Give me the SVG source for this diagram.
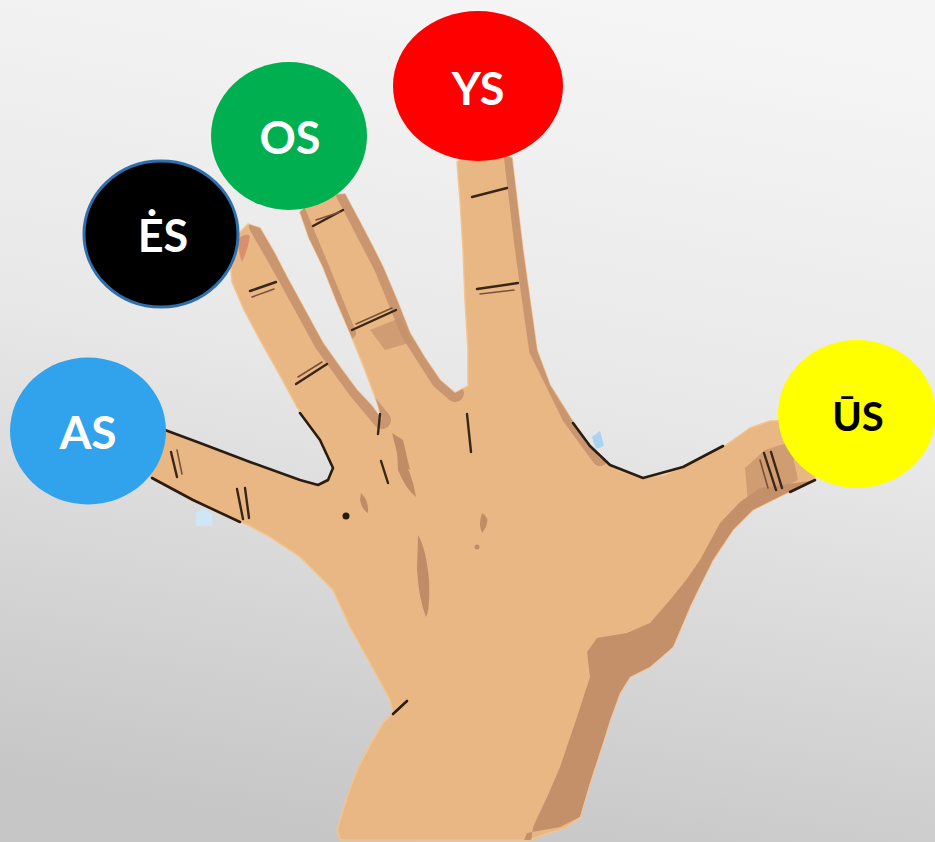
<svg xmlns="http://www.w3.org/2000/svg" width="935" height="842" viewBox="0 0 935 842">
<defs>
<linearGradient id="bg" x1="0.6" y1="0" x2="0.4" y2="1">
<stop offset="0" stop-color="#f5f5f5"/>
<stop offset="0.45" stop-color="#e8e8e8"/>
<stop offset="1" stop-color="#c6c6c6"/>
</linearGradient>
<path id="handPath" d="M160,428 L200,443 L250,462 L300,481 L318,485 L328,480 L333,468 L320,440 L297,407 L278,372 L260,340 L244,310 L232,282 L230,258 L236,236 L248,224 L260,228 L274,252 L287,277 L305,310 L323,343 L340,367 L357,390 L372,406 L382,420 L378,405 L365,370 L350,333 L336,300 L323,267 L309,238 L300,212 L318,196 L345,194 L360,222 L372,245 L383,267 L397,300 L410,333 L425,358 L440,380 L455,393 L468,386 L468,350 L465,300 L463,250 L460,200 L457,162 L484,147 L512,158 L517,200 L523,250 L530,300 L537,350 L550,385 L570,417 L585,440 L600,458 L620,471 L643,478 L665,475 L683,467 L705,457 L723,447 L750,428 L770,421 L800,420 L825,440 L820,470 L813,480 L787,493 L753,510 L733,530 L713,560 L700,586 L690,607 L673,647 L650,667 L630,677 L620,693 L610,720 L603,743 L590,783 L580,817 L565,828 L540,836 L530,840 L340,840 L337,830 L346,800 L357,770 L370,745 L383,723 L393,713 L390,700 L370,663 L350,627 L333,590 L300,557 L270,537 L248,525 L220,513 L193,500 L150,477 L140,450 Z"/>
<clipPath id="handClip"><use href="#handPath"/></clipPath>
</defs>
<style>
.skin{fill:#e9b784;stroke:#f2c48f;stroke-width:1.5;stroke-linejoin:round}
.shade{fill:#c4906a}
.band{fill:none;stroke:#c99670;stroke-linejoin:round;stroke-linecap:round}
.ink{fill:none;stroke:#2b1c12;stroke-width:2.6;stroke-linecap:round;stroke-linejoin:round}
.crease{fill:none;stroke:#3a2618;stroke-width:2.4;stroke-linecap:round}
.crease2{fill:none;stroke:#7a5238;stroke-width:1.6;stroke-linecap:round}
.blob{fill:#c08c66}
.lbl{font-family:Lato,"Liberation Sans",sans-serif;font-weight:700;text-anchor:middle}
</style>
<rect width="935" height="842" fill="url(#bg)"/>
<path d="M196,513 L204,508 L212,514 L213,526 L196,526 Z" fill="#cfe6f7"/>
<path d="M592,437 L600,431 L604,446 L596,449 Z" fill="#a9d3f0"/>
<g id="hand">
<use href="#handPath" class="skin"/>
<g clip-path="url(#handClip)">
<path class="shade" d="M830,470 L813,480 L787,493 L753,510 L733,530 L713,560 L690,607 L673,647 L650,667 L630,677 L620,693 L603,743 L590,783 L580,817 L560,827 L527,833 L520,850 L530,850 L533,827 L548,795 L560,767 L577,717 L590,677 L587,652 L597,638 L627,633 L650,623 L670,600 L686,580 L700,560 L720,523 L740,502 L760,488 L830,478 Z"/>
<path class="band" stroke-width="18" d="M258,226 L287,277 L323,343 L357,390 L382,420"/>
<path class="band" stroke-width="18" d="M345,194 L383,267 L410,333 L440,380 L455,393"/>
<path class="band" stroke-width="16" d="M512,158 L523,250 L537,350 L570,417 L600,458"/>
<path class="band" stroke-width="12" d="M300,212 L323,267 L350,333"/>
<path class="shade" d="M745,468 L765,450 L790,442 L798,480 L770,494 L748,502 Z" opacity="0.7"/>
<path class="shade" d="M370,330 L400,318 L412,342 L385,350 Z" opacity="0.7"/>
<path d="M238,240 Q244,232 250,236 Q248,250 242,262 Q238,252 238,240 Z" fill="#d89070"/>
</g>
<path class="ink" d="M165,430 L200,443 L250,462 L300,480 L318,485 L328,480 L333,468 L320,440 L300,413"/>
<path class="ink" d="M152,478 L193,500 L240,522"/>
<path class="ink" d="M573,423 L590,446 L610,465 L643,478 L683,467 L723,446"/>
<path class="ink" d="M790,492 L815,480"/>
<path class="ink" d="M393,714 L407,701"/>
<path class="crease" d="M250,291 L276,282"/>
<path class="crease2" d="M252,297 L274,289"/>
<path class="crease" d="M296,384 L327,364"/>
<path class="crease2" d="M298,377 L322,362"/>
<path class="crease" d="M313,226 L343,210"/>
<path class="crease2" d="M316,220 L340,212"/>
<path class="crease" d="M352,330 L396,310"/>
<path class="crease2" d="M356,324 L392,308"/>
<path class="crease" d="M472,197 L507,188"/>
<path class="crease" d="M477,289 L518,283"/>
<path class="crease2" d="M480,294 L514,290"/>
<path class="crease" d="M171,452 L177,477"/>
<path class="crease2" d="M177,450 L182,474"/>
<path class="crease" d="M237,489 L243,519"/>
<path class="crease" d="M245,488 L249,518"/>
<path class="crease" d="M764,453 L776,490"/>
<path class="crease" d="M771,452 L782,488"/>
<path class="crease2" d="M760,460 L768,488"/>
<path class="crease" d="M381,461 L388,483"/>
<path class="crease" d="M380,414 L378,434"/>
<path class="crease" d="M467,414 L469,433 L471,452"/>
<circle cx="346" cy="516" r="3.5" fill="#2b1c12"/>
<path class="blob" d="M418,535 Q426,548 429,580 Q430,610 426,617 Q419,600 417,570 Z"/>
<path class="blob" d="M361,493 Q369,500 368,513 Q362,510 360,500 Z"/>
<path class="blob" d="M397,450 Q412,470 416,497 Q405,488 398,470 Z"/>
<path class="blob" d="M392,433 L403,440 L410,470 L400,465 Z"/>
<path class="blob" d="M482,513 Q490,517 486,527 L482,533 Q478,524 482,513 Z"/>
<circle cx="477" cy="547" r="2.5" fill="#c08c66"/>
</g>
<g id="node-as">
<ellipse cx="88" cy="431" rx="78" ry="73.5" fill="#31a2ec"/>
<text class="lbl" x="88" y="449" font-size="46" fill="#ffffff">AS</text>
</g>
<g id="node-es">
<ellipse cx="161" cy="234" rx="77" ry="73" fill="#000000" stroke="#2e6fae" stroke-width="3"/>
<text class="lbl" x="163" y="252" font-size="45" fill="#ffffff">ĖS</text>
</g>
<g id="node-os">
<ellipse cx="289" cy="136" rx="78" ry="74" fill="#00b050"/>
<text class="lbl" x="290" y="154" font-size="45" fill="#ffffff">OS</text>
</g>
<g id="node-ys">
<ellipse cx="478" cy="86" rx="85" ry="75" fill="#ff0000"/>
<text class="lbl" x="478" y="105" font-size="45" fill="#ffffff">YS</text>
</g>
<g id="node-us">
<ellipse cx="857" cy="414" rx="79" ry="74" fill="#ffff00"/>
<text class="lbl" x="858" y="431" font-size="40" fill="#000000">ŪS</text>
</g>
</svg>
